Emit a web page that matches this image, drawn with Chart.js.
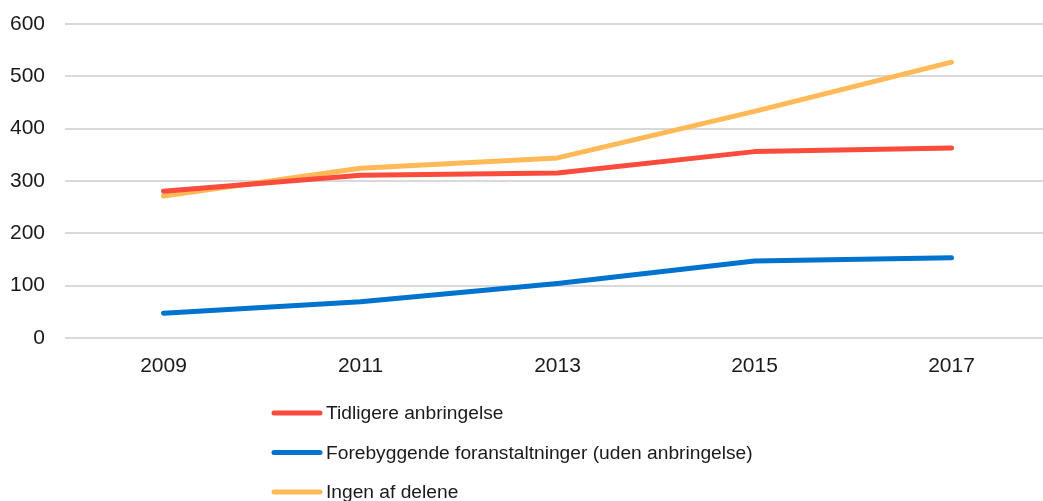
<!DOCTYPE html>
<html>
<head>
<meta charset="utf-8">
<script src="https://cdn.jsdelivr.net/npm/chart.js@4"></script>
<style>
  html, body { margin: 0; padding: 0; background: #fff; overflow: hidden; }
  #wrap { width: 1043px; height: 501px; overflow: hidden; }
  #inner { width: 1050px; height: 501px; position: relative; }
</style>
</head>
<body>
<div id="wrap"><div id="inner"><canvas id="chart"></canvas></div></div>
<script>
"use strict";

const years = ["2009", "2011", "2013", "2015", "2017"];
const tidligere = [280, 311, 315, 356, 363];
const forebyggende = [47, 69, 104, 147, 153];
const ingen = [271, 324, 344, 433, 527];
const seriesNames = [
    "Tidligere anbringelse",
    "Forebyggende foranstaltninger (uden anbringelse)",
    "Ingen af delene"
];

const FONT = "'Liberation Sans', Arial, sans-serif";

// legend drawn as a vertical list under the plot, like the original
const stackLegend = {
    id: "stackLegend",
    afterDraw(chart) {
        const ctx = chart.ctx;
        ctx.save();
        ctx.font = "19.2px " + FONT;
        ctx.textBaseline = "middle";
        chart.data.datasets.forEach((ds, i) => {
            const y = 413 + i * 39.5;
            ctx.strokeStyle = ds.borderColor;
            ctx.lineWidth = 5;
            ctx.lineCap = "round";
            ctx.beginPath();
            ctx.moveTo(274, y);
            ctx.lineTo(320, y);
            ctx.stroke();
            ctx.fillStyle = "#1a1a1a";
            ctx.fillText(ds.label, 326, y + 1);
        });
        ctx.restore();
    }
};

function lineSet(label, data, color) {
    return {
        label, data,
        borderColor: color,
        backgroundColor: color,
        borderWidth: 5,
        borderCapStyle: "round",
        borderJoinStyle: "round",
        pointRadius: 0,
        tension: 0
    };
}

const ctx = document.getElementById("chart").getContext("2d");
new Chart(ctx, {
    type: "line",
    data: {
        labels: years,
        datasets: [
            lineSet(seriesNames[0], tidligere, "#fa4b3c"),
            lineSet(seriesNames[1], forebyggende, "#0073cf"),
            lineSet(seriesNames[2], ingen, "#ffb957")
        ]
    },
    options: {
        responsive: true,
        maintainAspectRatio: false,
        animation: false,
        layout: { padding: { top: 0, right: 0, left: 10, bottom: 114 } },
        plugins: {
            legend: { display: false },
            tooltip: { enabled: false }
        },
        scales: {
            x: {
                offset: true,
                grid: { display: false },
                border: { display: false },
                ticks: { color: "#1a1a1a", font: { family: FONT, size: 21 }, padding: 8 }
            },
            y: {
                min: 0,
                max: 600,
                afterFit(scale) {
                    scale.width = 55;
                    scale.paddingTop = 24;
                    scale.paddingBottom = 0;
                },
                ticks: { stepSize: 100, color: "#1a1a1a", font: { family: FONT, size: 21 }, padding: 20 },
                grid: { color: "#d9d9d9", lineWidth: 2, drawTicks: false },
                border: { display: false }
            }
        }
    },
    plugins: [stackLegend]
});
</script>
</body>
</html>
